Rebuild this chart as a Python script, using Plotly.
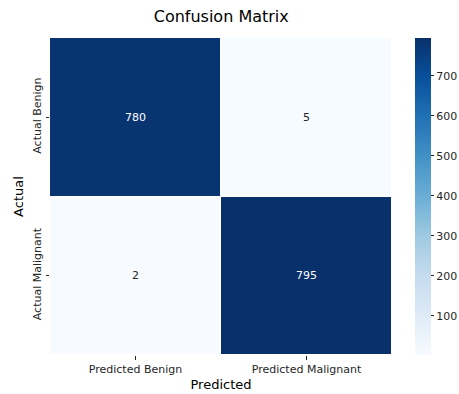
import plotly.graph_objects as go
import plotly.colors as pc

# Confusion matrix counts
actual_labels = ["Actual Benign", "Actual Malignant"]
predicted_labels = ["Predicted Benign", "Predicted Malignant"]
counts_benign = [780, 5]
counts_malignant = [2, 795]
cbar_ticks = [100, 200, 300, 400, 500, 600, 700]

z = [counts_benign, counts_malignant]
zmin = min(min(r) for r in z)
zmax = max(max(r) for r in z)

FONT = "DejaVu Sans"
TXT = "#262626"

fig = go.Figure()
fig.add_trace(go.Heatmap(
    z=z, x=predicted_labels, y=actual_labels,
    colorscale=pc.sequential.Blues, zmin=zmin, zmax=zmax,
    xgap=1, ygap=1,
    colorbar=dict(
        thickness=16, len=1, lenmode="fraction", y=0.5, yanchor="middle",
        x=1.067, xanchor="left", xpad=0, ypad=0, outlinewidth=0,
        tickvals=cbar_ticks, ticks="outside", ticklen=3.5, tickcolor=TXT,
        tickfont=dict(family=FONT, size=11, color=TXT),
    ),
    hoverinfo="skip",
))

# Cell annotations: white on dark cells, dark on light cells
mid = (zmin + zmax) / 2
for i, row in enumerate(z):
    for j, v in enumerate(row):
        fig.add_annotation(
            x=predicted_labels[j], y=actual_labels[i], text=str(v),
            showarrow=False,
            font=dict(family=FONT, size=11, color="white" if v > mid else TXT),
        )

fig.update_layout(
    width=459, height=394,
    margin=dict(l=50, r=67, t=38, b=39, autoexpand=False),
    paper_bgcolor="white", plot_bgcolor="white",
    title=dict(text="Confusion Matrix", x=0.482, xanchor="center",
               y=1 - 16 / 394, yanchor="middle", yref="container",
               font=dict(family=FONT, size=16, color="black")),
    font=dict(family=FONT, color=TXT),
)
fig.update_xaxes(
    title=dict(text="Predicted", font=dict(family=FONT, size=13, color="black"), standoff=5),
    ticks="outside", ticklen=3.5, tickcolor=TXT,
    tickfont=dict(family=FONT, size=11, color=TXT),
    showgrid=False, zeroline=False, showline=False,
)
fig.update_yaxes(
    title=dict(text="Actual", font=dict(family=FONT, size=13, color="black"), standoff=4),
    autorange="reversed", tickangle=-90,
    ticks="outside", ticklen=3.5, tickcolor=TXT,
    tickfont=dict(family=FONT, size=11, color=TXT),
    showgrid=False, zeroline=False, showline=False,
)

fig.write_html("out.html")
